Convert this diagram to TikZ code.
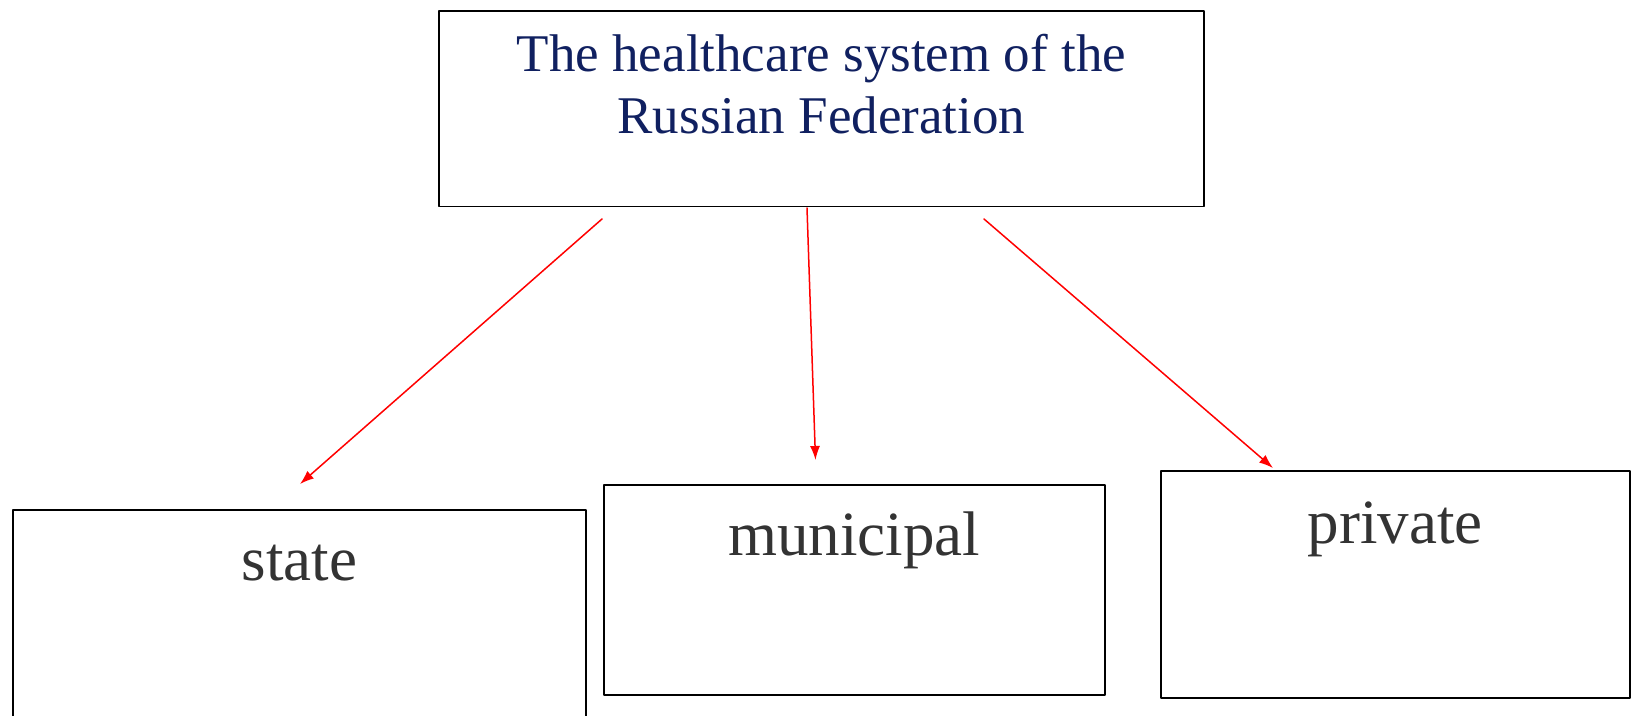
\documentclass[tikz,border=0pt]{standalone}
\usepackage{fontspec}
\setmainfont{Liberation Serif}
\usetikzlibrary{arrows.meta}
\definecolor{navy}{RGB}{16,32,96}
\definecolor{txtgray}{RGB}{51,51,51}
\begin{document}
\begin{tikzpicture}[x=0.5pt, y=-0.5pt, line join=round, line cap=round,
    box/.style={draw, line width=0.9pt, inner sep=0pt, anchor=north west},
    kind/.style={box, text=txtgray, font=\fontsize{31.5}{38}\selectfont},
    link/.style={red, line width=0.75pt, -{Latex[length=7pt,width=5pt]}}]
\useasboundingbox (0,0) rectangle (1633,716);
% main box
\node[box, minimum width=382.5pt, text=navy, align=center,
      font=\fontsize{26.5}{31}\selectfont, text height=61.3pt, text depth=36.5pt]
      (hs) at (438,10) {The healthcare system of the\\Russian Federation};
% three kinds
\node[kind, minimum width=286.5pt, text height=35.5pt, text depth=90pt] (st) at (12,509) {state};
\node[kind, minimum width=250.5pt, text height=35.5pt, text depth=69.5pt] (mu) at (603,484) {municipal};
\node[kind, minimum width=234.5pt, text height=36.5pt, text depth=77pt] (pr) at (1160,470) {private};
% arrow ends
\coordinate (a1) at (602,219); \coordinate (b1) at (300,484);
\coordinate (a2) at (807,208); \coordinate (b2) at (815.5,460);
\coordinate (a3) at (984,219); \coordinate (b3) at (1273,468);
\foreach \s/\e in {a1/b1, a2/b2, a3/b3} \draw[link] (\s) -- (\e);
\end{tikzpicture}
\end{document}
